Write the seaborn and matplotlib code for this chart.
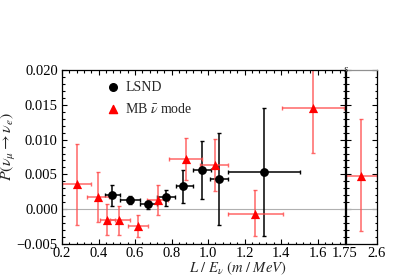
import numpy as np
import matplotlib
matplotlib.use("Agg")
import matplotlib.pyplot as plt
import seaborn as sns
from matplotlib.ticker import MultipleLocator, FixedLocator

# LSND points
lsnd_x = [0.475, 0.572, 0.673, 0.770, 0.864, 0.965, 1.061, 1.305]
lsnd_y = [0.0020, 0.0013, 0.0007, 0.0017, 0.0034, 0.0057, 0.0043, 0.0054]
lsnd_xlo = [0.435, 0.518, 0.627, 0.720, 0.824, 0.919, 1.012, 1.107]
lsnd_xhi = [0.518, 0.627, 0.720, 0.819, 0.919, 1.016, 1.110, 1.503]
lsnd_ylo = [0.0004, 0.0008, 0.0001, 0.0004, 0.0009, 0.0014, -0.0022, -0.0038]
lsnd_yhi = [0.0035, 0.0019, 0.0011, 0.0028, 0.0057, 0.0098, 0.0109, 0.0146]

# MiniBooNE antineutrino mode points (last one sits in the broken panel)
mb_x = [0.280, 0.395, 0.445, 0.514, 0.618, 0.727, 0.877, 1.038, 1.257, 1.576, 2.16]
mb_y = [0.0036, 0.0017, -0.0015, -0.0016, -0.0024, 0.0013, 0.0072, 0.0063, -0.0007, 0.0145, 0.0048]
mb_xlo = [0.198, 0.339, 0.408, 0.463, 0.563, 0.664, 0.786, 0.955, 1.107, 1.405, 1.75]
mb_xhi = [0.360, 0.457, 0.490, 0.572, 0.673, 0.782, 0.965, 1.110, 1.409, 1.746, 2.60]
mb_ylo = [-0.0023, -0.0019, -0.0037, -0.0037, -0.0040, -0.0008, 0.0042, 0.0026, -0.0039, 0.0081, -0.0032]
mb_yhi = [0.0094, 0.0053, 0.0007, 0.0004, -0.0008, 0.0035, 0.0102, 0.0101, 0.0028, 0.0209, 0.0130]

main_xticks = [0.2, 0.4, 0.6, 0.8, 1.0, 1.2, 1.4, 1.6, 1.75]
main_xlabels = ["0.2", "0.4", "0.6", "0.8", "1.0", "1.2", "1.4", "1.6", "1.75"]
yticks = [-0.005, 0.0, 0.005, 0.010, 0.015, 0.020]
ylabels = ["\u22120.005", "0.000", "0.005", "0.010", "0.015", "0.020"]

sns.set_theme(style="ticks")
plt.rcParams["font.family"] = ["Liberation Serif", "DejaVu Serif"]
plt.rcParams["mathtext.fontset"] = "stix"
plt.rcParams["font.size"] = 10

fig = plt.figure(figsize=(4.12, 2.76), dpi=100)
ax = fig.add_axes([62 / 412, 32 / 276, 283 / 412, 174 / 276])
ax2 = fig.add_axes([346 / 412, 32 / 276, 31 / 412, 174 / 276], sharey=ax)

red_err = (1.0, 0.3, 0.3, 0.85)


def draw(a, x, y, xlo, xhi, ylo, yhi, color, ecolor, marker, ms):
    x = np.asarray(x); y = np.asarray(y)
    xerr = [x - np.asarray(xlo), np.asarray(xhi) - x]
    yerr = [y - np.asarray(ylo), np.asarray(yhi) - y]
    a.errorbar(x, y, xerr=xerr, yerr=yerr, fmt="none", ecolor=ecolor,
               elinewidth=1.1, capsize=1.5, capthick=1.0, zorder=2)
    sns.scatterplot(x=x, y=y, ax=a, color=color, marker=marker, s=ms,
                    edgecolor=color, linewidth=0, zorder=3, legend=False)


# main panel
draw(ax, lsnd_x, lsnd_y, lsnd_xlo, lsnd_xhi, lsnd_ylo, lsnd_yhi,
     "black", "black", "o", 40)
draw(ax, mb_x[:-1], mb_y[:-1], mb_xlo[:-1], mb_xhi[:-1], mb_ylo[:-1], mb_yhi[:-1],
     "red", red_err, "^", 44)
# broken panel
draw(ax2, mb_x[-1:], mb_y[-1:], mb_xlo[-1:], mb_xhi[-1:], mb_ylo[-1:], mb_yhi[-1:],
     "red", red_err, "^", 44)

for a in (ax, ax2):
    a.axhline(0, color="#b0b0b0", lw=0.8, zorder=1)
    a.set_ylim(-0.005, 0.020)
    a.tick_params(which="both", direction="in", top=True, right=True,
                  labelsize=10.5, width=0.8, colors="black", pad=2)
    a.tick_params(which="major", length=3.5)
    a.tick_params(which="minor", length=1.8)
    for s in a.spines.values():
        s.set_linewidth(0.9)
        s.set_color("black")

ax.set_xlim(0.2, 1.75)
ax.xaxis.set_major_locator(FixedLocator(main_xticks))
ax.set_xticklabels(main_xlabels)
ax.xaxis.set_minor_locator(MultipleLocator(0.04))
ax.set_yticks(yticks)
ax.set_yticklabels(ylabels)
ax.yaxis.set_minor_locator(MultipleLocator(0.001))
ax.tick_params(axis="y", pad=3)

ax2.set_xlim(1.75, 2.6)
ax2.set_xticks([2.6])
ax2.set_xticklabels(["2.6"])
ax2.tick_params(axis="y", labelleft=False)
ax2.spines["top"].set_color("#909090")

ax.set_ylabel(r"$P\left(\bar{\nu}_{\mu}\rightarrow\bar{\nu}_{e}\right)$", fontsize=11.5)
ax.yaxis.set_label_coords(-0.155, 0.56)
ax.set_xlabel(r"$L\ /\ E_{\nu}\ (m\ /\ MeV)$", fontsize=10.5)
ax.xaxis.set_label_coords(0.62, -0.09)
ax.xaxis.label.set_va("top")

# legend
h1 = ax.scatter([], [], color="black", marker="o", s=30)
h2 = ax.scatter([], [], color="red", marker="^", s=34)
ax.legend([h1, h2], ["LSND", r"MB $\bar{\nu}$ mode"], loc="upper left",
          bbox_to_anchor=(0.125, 0.985), frameon=False, fontsize=10,
          handlelength=1.0, handletextpad=0.4, labelspacing=0.55, borderaxespad=0.2)

# axis break mark
fig.text(346 / 412, 206 / 276, "s", fontsize=8, ha="center", va="center", style="italic")

fig.savefig("out.png", dpi=100)
